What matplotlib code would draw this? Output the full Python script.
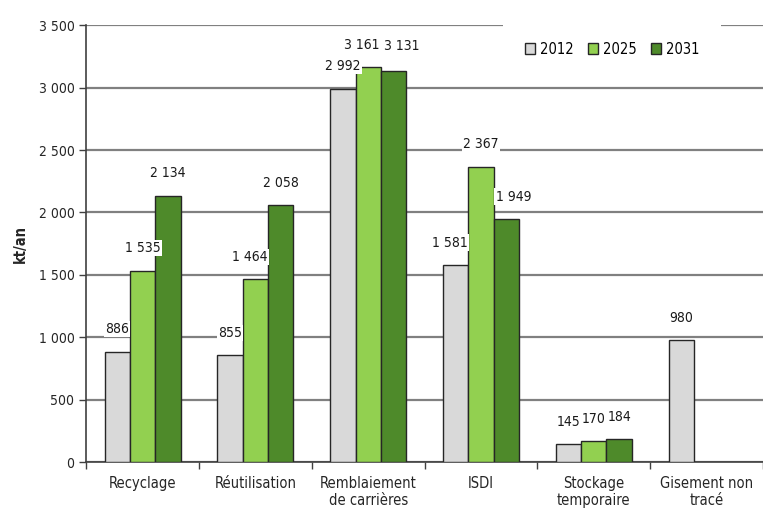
import numpy as np
import matplotlib
matplotlib.use('Agg')
import matplotlib.pyplot as plt
from matplotlib.ticker import FuncFormatter, MultipleLocator

plt.rcParams['font.family'] = ['DejaVu Sans']
plt.rcParams['font.stretch'] = 'condensed'

categories = ['Recyclage', 'Réutilisation', 'Remblaiement\nde carrières', 'ISDI',
              'Stockage\ntemporaire', 'Gisement non\ntracé']
years = ['2012', '2025', '2031']
v2012 = [886, 855, 2992, 1581, 145, 980]
v2025 = [1535, 1464, 3161, 2367, 170, np.nan]
v2031 = [2134, 2058, 3131, 1949, 184, np.nan]
colors = ['#d9d9d9', '#92d050', '#4e8a2a']

# extra label nudges in points (series index, category index) -> (dx, dy)
nudges = {(1, 2): (-5, 0), (2, 2): (6, 2), (1, 1): (-4, 0), (2, 3): (5, 0),
          (0, 3): (-4, 0)}


def fmt(v, pos=None):
    return f'{int(v):,}'.replace(',', ' ')


fig = plt.figure(figsize=(7.63, 5.24), dpi=100)
ax = fig.add_axes([0.113, 0.118, 0.887, 0.834])

x = np.arange(len(categories))
w = 0.225
series = [v2012, v2025, v2031]
for i, (vals, c, lab) in enumerate(zip(series, colors, years)):
    vals = np.array(vals, dtype=float)
    pos = x + (i - 1) * w
    ax.bar(pos, vals, width=w, color=c, edgecolor='#262626', linewidth=1.0,
           label=lab, zorder=3)
    for j, (px, v) in enumerate(zip(pos, vals)):
        if np.isnan(v):
            continue
        dx, dy = nudges.get((i, j), (0, 0))
        ax.annotate(fmt(v), (px, v), xytext=(dx, 16 + dy), textcoords='offset points',
                    ha='center', va='center', fontsize=10, color='#1a1a1a',
                    zorder=5,
                    bbox=dict(facecolor='white', edgecolor='none', pad=0.8))

ax.set_xlim(-0.5, 5.5)
ax.set_ylim(0, 3500)
ax.yaxis.set_major_locator(MultipleLocator(500))
ax.yaxis.set_major_formatter(FuncFormatter(fmt))
ax.grid(axis='y', color='#808080', linewidth=1.6, zorder=0)
ax.set_axisbelow(True)

ax.set_xticks(x)
ax.set_xticklabels(categories, fontsize=10.5, color='#262626')
ax.set_xticks(np.arange(-0.5, 6.0, 1.0), minor=True)
ax.tick_params(axis='x', which='major', length=0, pad=10)
ax.tick_params(axis='x', which='minor', length=5, color='#404040', width=1.0)
ax.tick_params(axis='y', length=5, color='#404040', width=1.0, labelsize=10,
               labelcolor='#262626')

for s in ['top', 'right']:
    ax.spines[s].set_visible(False)
for s in ['left', 'bottom']:
    ax.spines[s].set_color('#404040')
    ax.spines[s].set_linewidth(1.2)

ax.set_ylabel('kt/an', fontsize=10.5, fontweight='bold', color='#262626', labelpad=8)

leg = ax.legend(loc='center', bbox_to_anchor=(0.777, 0.945), ncol=3, fontsize=10.5,
                handlelength=0.7, handleheight=0.7, handletextpad=0.3,
                columnspacing=1.0, borderpad=1.5, frameon=True, fancybox=False)
leg.get_frame().set_facecolor('white')
leg.get_frame().set_edgecolor('none')
leg.get_frame().set_alpha(1.0)
leg.set_zorder(6)

fig.savefig('out.png', dpi=100)
